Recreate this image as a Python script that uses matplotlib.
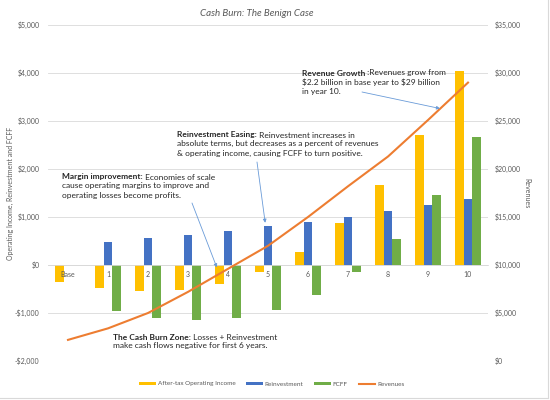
import numpy as np
import matplotlib
matplotlib.use('Agg')
import matplotlib.pyplot as plt
from matplotlib.ticker import FuncFormatter, MultipleLocator
from matplotlib.lines import Line2D

plt.rcParams['font.family'] = ['Lato', 'DejaVu Sans']

# Данные графика (в $ млн)
years = ['Base', '1', '2', '3', '4', '5', '6', '7', '8', '9', '10']
op_income = [-360, -480, -550, -520, -396, -140, 277, 867, 1673, 2715, 4033]
reinvestment = [0, 485, 560, 630, 714, 804, 902, 1006, 1131, 1250, 1375]
fcff = [0, -965, -1110, -1150, -1110, -944, -625, -139, 542, 1465, 2658]
revenues = [2200, 3400, 5000, 7200, 9600, 12000, 15000, 18200, 21300, 25100, 29000]

GREY = '#595959'
TXT = '#262626'
ARROW = '#6A9BD8'

fig = plt.figure(figsize=(5.5, 4), dpi=100)
ax = fig.add_axes([48 / 550, 39 / 400, 440 / 550, 336 / 400])

x = np.arange(len(years))
w = 0.22
ax.bar(x - w, op_income, w, color='#FFC000', label='After-tax Operating Income')
ax.bar(x, reinvestment, w, color='#4472C4', label='Reinvestment')
ax.bar(x + w, fcff, w, color='#70AD47', label='FCFF')

ax.set_xlim(-0.5, len(years) - 0.5)
ax.set_ylim(-2000, 5000)
ax.yaxis.set_major_locator(MultipleLocator(1000))
ax.yaxis.set_major_formatter(FuncFormatter(
    lambda v, p: ('-$' if v < 0 else '$') + f'{abs(v):,.0f}'))
ax.grid(axis='y', color='#D9D9D9', lw=0.6)
ax.set_axisbelow(True)
# подписи категорий поверх столбцов
ax.xaxis.set_zorder(3)
for s in ['top', 'left', 'right']:
    ax.spines[s].set_visible(False)
ax.spines['bottom'].set_position(('data', 0))
ax.spines['bottom'].set_color('#D9D9D9')
ax.spines['bottom'].set_linewidth(0.6)
ax.set_xticks(x, years)
ax.tick_params(axis='x', length=0, labelsize=5, labelcolor=GREY, pad=4)
ax.tick_params(axis='y', length=0, labelsize=5, labelcolor=GREY, pad=6)
ax.set_ylabel('Operating Income, Reinvestment and FCFF', fontsize=5, color=GREY)
ax.yaxis.set_label_coords(-0.078, 0.5)

# Вторая ось - выручка
ax2 = ax.twinx()
ax2.plot(x, revenues, color='#ED7D31', lw=1.5, label='Revenues')
ax2.set_ylim(0, 35000)
ax2.yaxis.set_major_locator(MultipleLocator(5000))
ax2.yaxis.set_major_formatter(FuncFormatter(lambda v, p: f'${v:,.0f}'))
for s in ax2.spines.values():
    s.set_visible(False)
ax2.tick_params(axis='y', length=0, labelsize=5, labelcolor=GREY, pad=5)
ax2.set_ylabel('Revenues', fontsize=5, color=GREY, rotation=270, va='center', ha='center')
ax2.yaxis.set_label_coords(1.089, 0.5)

# Заголовок
fig.text(257 / 550, 1 - 14 / 400, 'Cash Burn: The Benign Case', ha='center', va='center',
         fontsize=7, style='italic', color=GREY)


def note(px, py, bold, rest, more):
    b = fig.text(px / 550, 1 - py / 400, bold, fontsize=6, fontweight='bold',
                 color=TXT, ha='left', va='center')
    ax2.annotate(rest, xy=(1, 0.5), xycoords=b, ha='left', va='center', fontsize=6, color=TXT)
    if more:
        ax2.annotate(more, xy=(0, 0), xycoords=b, xytext=(0, -1.2), textcoords='offset points',
                     ha='left', va='top', fontsize=6, color=TXT, linespacing=1.4)


note(302, 73, 'Revenue Growth', ' :Revenues grow from',
     '\\$2.2 billion in base year to \\$29 billion\nin year 10.')
note(177, 135, 'Reinvestment Easing:', ' Reinvestment increases in',
     'absolute terms, but decreases as a percent of revenues\n'
     '& operating income, causing FCFF to turn positive.')
note(62, 177, 'Margin improvement:', ' Economies of scale',
     'cause operating margins to improve and\noperating losses become profits.')
note(113, 337, 'The Cash Burn Zone:', ' Losses + Reinvestment',
     'make cash flows negative for first 6 years.')

arrow = dict(arrowstyle='-|>', color=ARROW, lw=0.6, mutation_scale=5, shrinkA=0, shrinkB=0)
ax2.annotate('', xy=(9.3, 26300), xytext=(362 / 550, 1 - 92 / 400),
             textcoords='figure fraction', arrowprops=arrow)
ax.annotate('', xy=(4.93, 880), xytext=(257 / 550, 1 - 162 / 400),
            textcoords='figure fraction', arrowprops=arrow)
ax.annotate('', xy=(3.72, -50), xytext=(192 / 550, 1 - 203 / 400),
            textcoords='figure fraction', arrowprops=arrow)

# Легенда
h1, l1 = ax.get_legend_handles_labels()
h2, l2 = ax2.get_legend_handles_labels()
leg = fig.legend(h1 + h2, l1 + l2, loc='center', bbox_to_anchor=(0.494, 0.04), ncol=4,
                 frameon=False, fontsize=4.6, handlelength=2.6, handleheight=0.45,
                 handletextpad=0.3, columnspacing=1.7)
for t in leg.get_texts():
    t.set_color(GREY)

# Рамка диаграммы
fig.add_artist(Line2D([0.996, 0.996], [0.005, 1], transform=fig.transFigure, color='#D9D9D9', lw=0.8))
fig.add_artist(Line2D([0, 0.996], [0.005, 0.005], transform=fig.transFigure, color='#D9D9D9', lw=0.8))

plt.savefig('out.png', format='png', dpi=100)
